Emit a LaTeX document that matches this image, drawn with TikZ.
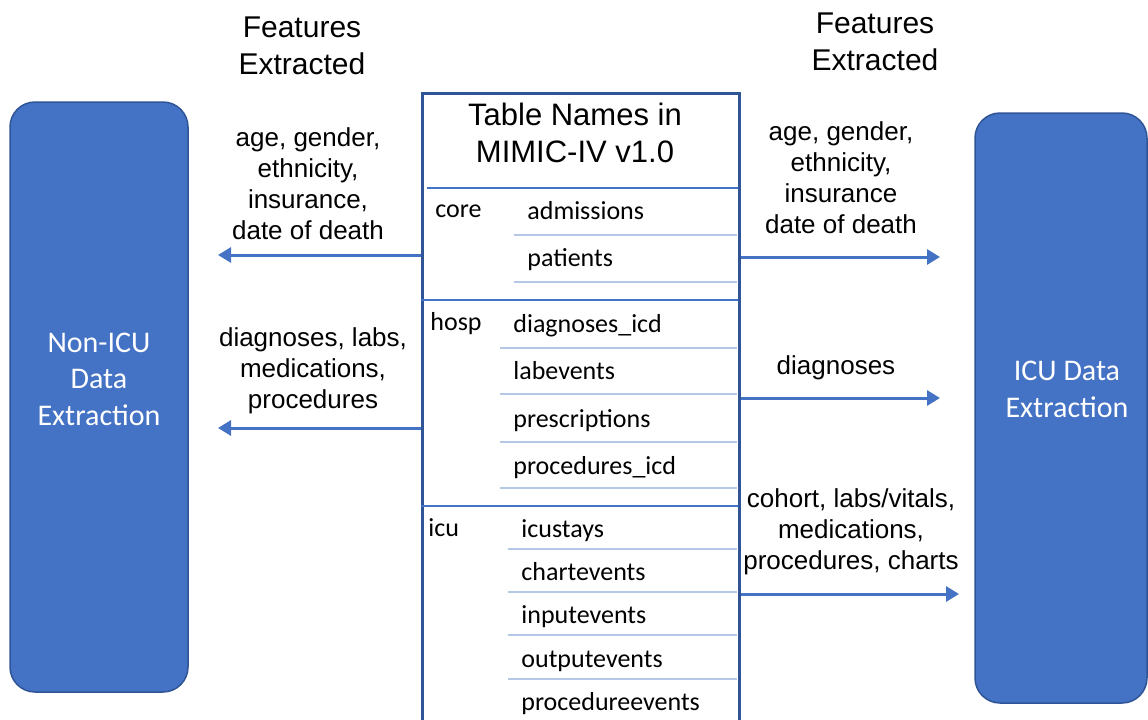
\documentclass[tikz,border=0pt]{standalone}
\usepackage{fontspec}
\setmainfont{Liberation Sans}
\newfontfamily\calibri{Carlito}
\usetikzlibrary{arrows.meta}
\definecolor{officeblue}{HTML}{4472C4}
\definecolor{darkblue}{HTML}{2F5597}
\definecolor{lightblue}{HTML}{B4C7E7}
\tikzset{
  extractbox/.style={
    rectangle,
    draw=darkblue,
    line width=0.75pt,
    fill=officeblue,
    rounded corners=12.5pt
  },
  boxtext/.style={align=center, text=white, inner sep=0pt, font=\calibri\fontsize{15}{18.25}\selectfont},
  feat/.style={align=center, inner sep=0pt, font=\fontsize{13}{15.5}\selectfont},
  head/.style={align=center, inner sep=0pt, font=\fontsize{15}{18.5}\selectfont},
  titletext/.style={align=center, inner sep=0pt, font=\fontsize{15.5}{18.5}\selectfont},
  entry/.style={anchor=base west, inner sep=0pt, font=\calibri\fontsize{13}{15.6}\selectfont},
  sepline/.style={officeblue, line width=1pt},
  rowline/.style={lightblue, line width=1.1pt}
}
\tikzstyle{flow} = [-{Triangle[length=6.5pt, width=7.5pt]}, officeblue, line width=1.5pt]

\begin{document}
\begin{tikzpicture}[x=0.5pt, y=-0.5pt]
    \useasboundingbox (0,0) rectangle (1148,719);
    \node[extractbox, minimum width=89pt, minimum height=295pt] (noni) at (99,397) {};
    \node[extractbox, minimum width=86pt, minimum height=295pt] (icu) at (1061,408) {};
    \node[boxtext] (noniTxt) at (99,379) {Non-ICU\\Data\\Extraction};
    \node[boxtext] (icuTxt) at (1067,389.5) {ICU Data\\Extraction};
    \node[draw=darkblue, line width=1.5pt, anchor=north west, minimum width=158.5pt, minimum height=330pt, inner sep=0pt] (tbl) at (421,92) {};
    \node[titletext] (title) at (575,133) {Table Names in\\MIMIC-IV v1.0};
    \draw[sepline] (427,188) -- (738,188);
    \draw[sepline] (421,300) -- (738,300);
    \draw[sepline] (421,506) -- (738,506);
    \foreach \y in {235,282} \draw[rowline] (514,\y) -- (737,\y);
    \foreach \y in {348,394,442,488} \draw[rowline] (500,\y) -- (737,\y);
    \foreach \y in {549,592,635,679} \draw[rowline] (508,\y) -- (737,\y);
    \node[entry] (core) at (435,217) {core};
    \node[entry] (hosp) at (430,330) {hosp};
    \node[entry] (icuSec) at (428,536) {icu};
    \foreach \t/\y [count=\i] in {admissions/219, patients/266}
        \node[entry] (core\i) at (527,\y) {\t};
    \foreach \t/\y [count=\i] in {diagnoses\_icd/332, labevents/379, prescriptions/427, procedures\_icd/474}
        \node[entry] (hosp\i) at (513,\y) {\t};
    \foreach \t/\y [count=\i] in {icustays/537, chartevents/580, inputevents/623, outputevents/667, procedureevents/710}
        \node[entry] (icu\i) at (521,\y) {\t};
    \node[head] (lhd) at (302,45.5) {Features\\Extracted};
    \node[head] (rhd) at (875,42) {Features\\Extracted};
    \node[feat] (lfA) at (308,184) {age, gender,\\ethnicity,\\insurance,\\date of death};
    \node[feat] (lfB) at (313,371) {diagnoses, labs,\\medications,\\procedures};
    \node[feat] (rfA) at (841,178) {age, gender,\\ethnicity,\\insurance\\date of death};
    \node[feat] (rfB) at (836,368) {diagnoses};
    \node[feat] (rfC) at (851,532) {cohort, labs/vitals,\\medications,\\procedures, charts};
    \coordinate (tipA) at (218,255);
    \coordinate (tipB) at (218,428);
    \coordinate (tipC) at (940,257);
    \coordinate (tipD) at (940,398);
    \coordinate (tipE) at (959,594);
    \draw[flow] (tbl.west |- tipA) -- (tipA);
    \draw[flow] (tbl.west |- tipB) -- (tipB);
    \draw[flow] (tbl.east |- tipC) -- (tipC);
    \draw[flow] (tbl.east |- tipD) -- (tipD);
    \draw[flow] (tbl.east |- tipE) -- (tipE);
\end{tikzpicture}
\end{document}
